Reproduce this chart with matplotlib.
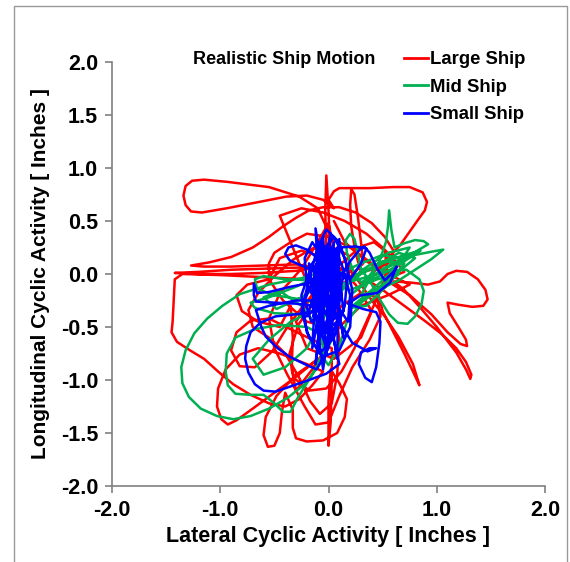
import matplotlib
matplotlib.use("Agg")
import matplotlib.pyplot as plt
from matplotlib.lines import Line2D
from matplotlib.ticker import FormatStrFormatter

plt.rcParams['font.family'] = ['Liberation Sans', 'DejaVu Sans']
plt.rcParams['axes.unicode_minus'] = False

series_names = ["Large Ship", "Mid Ship", "Small Ship"]
series_colors = ["#FF0000", "#00B050", "#0000FF"]
title_text = "Realistic Ship Motion"
x_label = "Lateral Cyclic Activity [ Inches ]"
y_label = "Longitudinal Cyclic Activity [ Inches ]"
x_ticks = [-2.0, -1.0, 0.0, 1.0, 2.0]
y_ticks = [-2.0, -1.5, -1.0, -0.5, 0.0, 0.5, 1.0, 1.5, 2.0]

# Large ship trajectory: (lateral, longitudinal) points
large_pts = [
    (0.0, -0.3), (-0.02, 0.2), (-0.03, 0.6), (-0.02, 0.93), (0.0, 0.6), (0.02, 0.1), (0.0, 0.4),
    (-0.1, 0.62), (-0.27, 0.73), (-0.55, 0.82), (-0.94, 0.87), (-1.15, 0.89), (-1.26, 0.88), (-1.32, 0.83),
    (-1.34, 0.74), (-1.32, 0.65), (-1.27, 0.59), (-1.17, 0.58), (-0.94, 0.62), (-0.64, 0.68), (-0.39, 0.73),
    (-0.2, 0.74), (-0.05, 0.7), (0.05, 0.62),
    (0.0, 0.7), (0.05, 0.78), (0.1, 0.81), (0.38, 0.81), (0.6, 0.82), (0.75, 0.82), (0.87, 0.77), (0.91, 0.68),
    (0.89, 0.6), (0.84, 0.53), (0.75, 0.40), (0.66, 0.27), (0.55, 0.15), (0.45, 0.05), (0.35, -0.05),
    (0.5, -0.15), (0.7, -0.3), (0.9, -0.45), (1.05, -0.57), (1.18, -0.7), (1.27, -0.83), (1.32, -0.95),
    (1.31, -0.99), (1.27, -0.9), (1.18, -0.74), (1.0, -0.5), (0.85, -0.32), (0.7, -0.15), (0.6, -0.07),
    (0.75, -0.08), (0.92, -0.1), (1.03, -0.07), (1.1, 0.0), (1.18, 0.03), (1.28, 0.02), (1.38, -0.05),
    (1.45, -0.15), (1.47, -0.24), (1.43, -0.3), (1.33, -0.31), (1.2, -0.29), (1.1, -0.27), (1.12, -0.37),
    (1.2, -0.5), (1.27, -0.62), (1.28, -0.68), (1.22, -0.66), (1.1, -0.55), (0.95, -0.38), (0.75, -0.2), (0.55, -0.07),
    (0.45, -0.15), (0.5, -0.35), (0.6, -0.55), (0.7, -0.75), (0.78, -0.92), (0.84, -1.05), (0.78, -0.85),
    (0.65, -0.6), (0.52, -0.4), (0.4, -0.25), (0.3, -0.1),
    (0.2, 0.04), (0.0, 0.07), (-0.3, 0.06), (-0.6, 0.05), (-0.9, 0.04), (-1.2, 0.02), (-1.42, 0.01),
    (-1.2, 0.0), (-0.9, 0.0), (-0.6, 0.01), (-0.3, 0.03), (-0.1, 0.06), (-0.3, 0.09), (-0.6, 0.08),
    (-0.9, 0.07), (-1.15, 0.07), (-1.27, 0.08),
    (-1.1, 0.11), (-0.9, 0.16), (-0.7, 0.25), (-0.55, 0.35), (-0.42, 0.45), (-0.3, 0.53), (-0.18, 0.6),
    (-0.05, 0.63), (0.1, 0.63), (0.25, 0.58), (0.4, 0.48), (0.52, 0.35), (0.6, 0.22), (0.58, 0.12),
    (0.45, 0.05), (0.3, 0.02),
    (0.25, 0.2), (0.21, 0.45), (0.2, 0.65), (0.21, 0.8), (0.24, 0.75), (0.27, 0.55), (0.3, 0.3), (0.32, 0.1),
    (0.15, -0.08), (-0.2, -0.05), (-0.6, -0.03), (-1.0, -0.01), (-1.35, 0.0), (-1.42, -0.05), (-1.43, -0.25),
    (-1.44, -0.45), (-1.45, -0.55), (-1.4, -0.64), (-1.28, -0.72), (-1.15, -0.8), (-1.02, -0.92),
    (-0.88, -1.04), (-0.72, -1.14), (-0.55, -1.22), (-0.4, -1.25), (-0.27, -1.18), (-0.15, -1.05), (-0.05, -0.92),
    (-0.2, -0.85), (-0.45, -0.75), (-0.65, -0.7), (-0.82, -0.76), (-0.95, -0.9), (-1.02, -1.08),
    (-1.03, -1.25), (-0.99, -1.37), (-0.93, -1.42), (-0.85, -1.38), (-0.7, -1.27), (-0.5, -1.12),
    (-0.3, -0.97), (-0.12, -0.82),
    (-0.3, -0.95), (-0.48, -1.15), (-0.58, -1.35), (-0.6, -1.52), (-0.56, -1.63), (-0.5, -1.62),
    (-0.45, -1.5), (-0.43, -1.3), (-0.4, -1.12), (-0.33, -1.28), (-0.33, -1.45), (-0.3, -1.55),
    (-0.2, -1.58), (-0.05, -1.57), (0.08, -1.5), (0.15, -1.35), (0.17, -1.18), (0.1, -1.03), (0.02, -0.9),
    (0.0, -1.2), (0.0, -1.45), (0.0, -1.62), (0.02, -1.4), (0.03, -1.0), (0.03, -0.7),
    (-0.15, -0.62), (-0.35, -0.52), (-0.55, -0.42), (-0.72, -0.44), (-0.85, -0.55), (-0.9, -0.72),
    (-0.82, -0.87), (-0.68, -0.88), (-0.52, -0.73), (-0.38, -0.5), (-0.22, -0.28), (-0.05, -0.08),
    (0.12, 0.1), (0.3, 0.26), (0.42, 0.3), (0.52, 0.22), (0.54, 0.05), (0.47, -0.18), (0.35, -0.45),
    (0.24, -0.7), (0.12, -0.92), (-0.02, -1.08), (-0.18, -1.1), (-0.32, -0.98), (-0.36, -0.75),
    (-0.28, -0.48), (-0.12, -0.25), (0.05, -0.12), (0.2, 0.02), (0.18, 0.18), (0.02, 0.26), (-0.15, 0.24),
    (-0.32, 0.14), (-0.5, -0.02), (-0.65, -0.18), (-0.74, -0.34), (-0.7, -0.5), (-0.55, -0.6),
    (-0.4, -0.75), (-0.27, -0.98), (-0.17, -1.2), (-0.08, -1.32), (0.03, -1.22), (0.08, -0.95),
    (0.1, -0.62), (0.06, -0.3), (-0.02, -0.02), (0.04, 0.28), (0.0, 0.48), (-0.1, 0.3), (-0.25, 0.05),
    (-0.45, -0.18), (-0.55, -0.42), (-0.5, -0.7), (-0.38, -0.95), (-0.22, -1.25), (-0.12, -1.42),
    (0.0, -1.4), (0.1, -1.15), (0.22, -0.88), (0.38, -0.62), (0.48, -0.4), (0.45, -0.22), (0.3, -0.18),
    (0.12, -0.3), (0.0, -0.5), (-0.2, -0.45), (-0.42, -0.25), (-0.55, -0.05), (-0.45, 0.15),
    (-0.25, 0.22), (0.0, 0.15), (0.25, -0.1), (0.4, -0.35), (0.3, -0.6), (0.05, -0.8), (-0.2, -0.7),
    (-0.3, -0.45), (-0.15, -0.2),
    (-0.45, 0.55), (-0.25, 0.62), (-0.05, 0.58), (0.15, 0.5), (0.35, 0.38), (0.5, 0.25), (0.62, 0.12),
    (0.7, 0.02), (0.6, -0.02), (0.4, 0.1), (0.2, 0.25), (0.0, 0.35), (-0.2, 0.38), (-0.35, 0.3),
    (-0.5, 0.2), (-0.55, 0.1), (-0.55, -0.05), (-0.75, -0.1), (-0.85, -0.2), (-0.8, -0.35), (-0.65, -0.45),
    (-0.45, -0.5), (-0.35, -0.3), (-0.33, -0.6), (-0.34, -0.9), (-0.3, -1.1), (-0.15, -0.9), (0.1, -0.5),
    (0.3, -0.3), (0.55, -0.2), (0.75, -0.1), (0.55, 0.0), (0.35, 0.12), (0.15, 0.3), (0.05, 0.5),
]

# Mid ship trajectory
mid_pts = [
    (0.2, -0.2), (0.35, -0.08), (0.5, 0.05), (0.65, 0.13), (0.8, 0.18), (0.95, 0.21), (1.06, 0.23),
    (0.95, 0.14), (0.8, 0.04), (0.65, -0.06), (0.48, -0.14), (0.3, -0.2), (0.38, -0.05), (0.47, 0.12),
    (0.53, 0.3), (0.55, 0.45), (0.56, 0.6), (0.58, 0.42), (0.61, 0.25), (0.7, 0.29), (0.8, 0.32),
    (0.88, 0.31), (0.92, 0.28), (0.82, 0.22), (0.68, 0.13), (0.5, 0.04), (0.3, -0.08),
    (0.22, 0.05), (0.17, 0.2), (0.16, 0.32), (0.2, 0.38), (0.24, 0.33), (0.27, 0.2), (0.3, 0.05),
    (0.4, -0.1), (0.48, -0.25), (0.56, -0.38), (0.64, -0.46), (0.73, -0.47), (0.8, -0.4), (0.86, -0.28),
    (0.88, -0.16), (0.84, -0.05), (0.72, 0.04), (0.55, 0.03), (0.35, -0.03), (0.1, -0.1),
    (-0.15, -0.06), (-0.4, -0.05), (-0.6, -0.02), (-0.68, -0.05), (-0.66, -0.14), (-0.5, -0.2),
    (-0.25, -0.24), (0.0, -0.3), (-0.25, -0.38), (-0.5, -0.37), (-0.68, -0.32), (-0.72, -0.27),
    (-0.55, -0.22), (-0.3, -0.12), (0.05, 0.05),
    (-0.25, -0.04), (-0.55, -0.1), (-0.82, -0.19), (-0.98, -0.3), (-1.12, -0.42), (-1.24, -0.56),
    (-1.32, -0.72), (-1.36, -0.88), (-1.35, -1.03), (-1.29, -1.16), (-1.18, -1.27), (-1.03, -1.34),
    (-0.88, -1.37), (-0.72, -1.34), (-0.55, -1.27), (-0.38, -1.17), (-0.22, -1.04), (-0.08, -0.85), (0.03, -0.62),
    (-0.2, -0.5), (-0.45, -0.48), (-0.68, -0.52), (-0.86, -0.6), (-0.94, -0.75), (-0.95, -0.92),
    (-0.93, -1.05), (-0.86, -1.13), (-0.72, -1.14), (-0.6, -1.14), (-0.5, -1.22), (-0.42, -1.3),
    (-0.35, -1.3), (-0.28, -1.16), (-0.15, -0.95), (-0.04, -0.72),
    (-0.1, -0.5), (-0.25, -0.3), (-0.45, -0.16), (-0.6, -0.22), (-0.48, -0.33), (-0.25, -0.22),
    (0.05, -0.02), (0.3, 0.1), (0.5, 0.18), (0.66, 0.15), (0.52, -0.08), (0.32, -0.25), (0.17, -0.45),
    (0.1, -0.68), (0.0, -0.86), (-0.1, -0.72), (-0.06, -0.42), (0.1, -0.18), (0.3, 0.03), (0.55, 0.2),
    (0.75, 0.25), (0.62, 0.05), (0.4, -0.15), (0.2, -0.32), (0.35, -0.3), (0.55, -0.1), (0.7, 0.1),
    (0.5, 0.12), (0.25, -0.02), (0.05, -0.2), (-0.15, -0.35), (-0.35, -0.45), (-0.55, -0.62),
    (-0.7, -0.8), (-0.6, -0.95), (-0.4, -0.88), (-0.2, -0.7),
    (0.1, -0.15), (0.3, 0.0), (0.5, 0.1), (0.7, 0.18), (0.85, 0.22), (0.7, 0.12), (0.5, 0.0),
    (0.3, -0.12), (0.45, 0.08), (0.65, 0.2), (0.8, 0.15), (0.6, -0.02), (0.4, -0.2), (0.25, -0.3),
    (0.45, -0.15), (0.65, 0.0), (0.45, -0.05), (0.2, -0.15),
]

# Small ship trajectory
small_pts = [
    (0.0, -0.3), (-0.12, 0.43), (-0.1, 0.1), (-0.08, -0.5), (-0.05, 0.35), (-0.02, -0.1), (0.0, -0.6),
    (0.05, 0.3), (-0.05, -0.2), (-0.15, -0.7), (-0.1, 0.2), (0.0, -0.3), (0.08, -0.8), (0.1, 0.33),
    (0.05, -0.2), (-0.05, -0.9), (-0.18, 0.1), (-0.05, -0.1), (0.12, -0.5), (0.0, 0.25), (-0.1, -0.3),
    (-0.2, -0.4), (-0.05, 0.05), (0.15, 0.0), (0.0, -0.4), (-0.1, -0.65), (-0.02, 0.0), (0.05, 0.1),
    (-0.08, -0.45), (-0.12, -0.85), (-0.04, -0.3), (0.02, 0.38), (-0.06, 0.0), (-0.15, -0.3),
    (-0.02, -0.7), (0.1, -0.4), (0.04, 0.15), (-0.08, 0.3), (-0.14, -0.15), (-0.04, -0.55),
    (0.12, -0.2), (0.08, 0.2),
    (-0.1, 0.15), (-0.2, 0.23), (-0.3, 0.27), (-0.37, 0.25), (-0.4, 0.19), (-0.36, 0.13), (-0.25, 0.08), (-0.1, 0.02),
    (-0.15, -0.08), (-0.35, -0.12), (-0.55, -0.17), (-0.66, -0.18), (-0.69, -0.09), (-0.69, -0.2),
    (-0.67, -0.26), (-0.5, -0.27), (-0.3, -0.28), (-0.15, -0.3),
    (-0.1, -0.35), (-0.3, -0.38), (-0.49, -0.40), (-0.63, -0.46), (-0.72, -0.55), (-0.76, -0.68),
    (-0.77, -0.8), (-0.74, -0.93), (-0.68, -1.04), (-0.6, -1.1), (-0.49, -1.11), (-0.35, -1.06),
    (-0.18, -1.0), (-0.02, -0.94), (0.1, -0.85),
    (0.02, -0.5), (-0.1, 0.2), (-0.02, -0.75), (0.08, 0.25), (-0.12, -0.55), (0.0, 0.1), (0.14, -0.6), (0.05, -0.1),
    (0.1, -0.05), (0.2, 0.12), (0.28, 0.22), (0.33, 0.26), (0.38, 0.2), (0.45, 0.05), (0.52, -0.06),
    (0.6, 0.02), (0.63, 0.07), (0.57, -0.08), (0.45, -0.18), (0.3, -0.2), (0.18, -0.28), (0.32, -0.33),
    (0.44, -0.36), (0.48, -0.45), (0.47, -0.65), (0.44, -0.88), (0.4, -1.02), (0.34, -0.98),
    (0.28, -0.85), (0.3, -0.74), (0.38, -0.7), (0.44, -0.7), (0.36, -0.73), (0.22, -0.65), (0.1, -0.45),
    (-0.05, -0.25), (-0.3, -0.25), (-0.55, -0.3), (-0.67, -0.34), (-0.62, -0.5), (-0.58, -0.59),
    (-0.47, -0.7), (-0.36, -0.78), (-0.22, -0.85), (-0.11, -0.9), (0.0, -0.7), (0.06, -0.2),
    (-0.08, 0.3), (-0.14, -0.4), (0.02, -0.6), (0.1, 0.15), (-0.06, -0.35),
    (-0.2, -0.1), (-0.22, 0.15), (-0.15, 0.3), (-0.05, 0.15), (0.05, -0.25), (0.18, -0.45), (0.2, -0.2),
    (0.12, 0.1), (0.0, 0.28), (-0.15, 0.1), (-0.25, -0.2), (-0.2, -0.55), (-0.08, -0.75), (0.05, -0.6),
    (0.15, -0.3), (0.18, 0.05), (0.1, 0.3), (-0.02, 0.42), (-0.1, 0.25), (-0.18, -0.05), (-0.25, -0.35),
    (-0.18, -0.6), (-0.05, -0.78), (0.1, -0.72), (0.2, -0.5), (0.22, -0.15), (0.15, 0.15), (0.05, 0.35),
    (-0.08, 0.18), (-0.12, -0.2), (-0.05, -0.55), (0.08, -0.45), (0.12, -0.1), (0.02, 0.12), (-0.12, 0.0),
    (-0.22, -0.25), (-0.16, -0.45), (-0.02, -0.35), (0.06, -0.05), (-0.04, 0.2), (-0.14, 0.05),
    (-0.1, -0.25), (0.02, -0.45), (0.14, -0.35), (0.1, -0.05), (0.0, 0.2), (0.1, 0.25), (0.25, 0.26),
    (0.35, 0.24), (0.3, 0.1), (0.2, -0.05), (-0.02, 0.05), (-0.1, -0.15), (-0.08, -0.4), (0.04, -0.3),
]

W, H = 570, 562
fig = plt.figure(figsize=(W / 100, H / 100), dpi=100)
ax = fig.add_axes([112 / W, 1 - 486 / H, (545 - 112) / W, (486 - 62) / H])

all_series = [large_pts, mid_pts, small_pts]
for pts, name, col in zip(all_series, series_names, series_colors):
    xs = [p[0] for p in pts]
    ys = [p[1] for p in pts]
    ax.plot(xs, ys, color=col, lw=1.8, label=name, solid_joinstyle='round', solid_capstyle='round')

ax.set_xlim(-2, 2)
ax.set_ylim(-2, 2)
ax.set_xticks(x_ticks)
ax.set_yticks(y_ticks)
ax.xaxis.set_major_formatter(FormatStrFormatter('%.1f'))
ax.yaxis.set_major_formatter(FormatStrFormatter('%.1f'))
for s in ['top', 'right']:
    ax.spines[s].set_visible(False)
for s in ['left', 'bottom']:
    ax.spines[s].set_color('#808080')
    ax.spines[s].set_linewidth(1.2)
ax.tick_params(direction='out', length=5, width=1.2, color='#808080', labelsize=15.5, pad=5)
for lab in ax.get_xticklabels() + ax.get_yticklabels():
    lab.set_fontweight('bold')
ax.set_xlabel(x_label, fontsize=15.5, fontweight='bold', labelpad=4)
ax.set_ylabel(y_label, fontsize=15, fontweight='bold', labelpad=8)

handles = [Line2D([0], [0], color=c, lw=2) for c in series_colors]
ax.legend(handles, series_names, loc='upper left', bbox_to_anchor=(404 / W, 1 - 51 / H),
          bbox_transform=fig.transFigure, frameon=False, borderpad=0, borderaxespad=0,
          handlelength=1.3, handletextpad=0.1, labelspacing=0.58,
          prop={'size': 13.3, 'weight': 'bold'})
fig.text(193 / W, 1 - 59 / H, title_text, fontsize=13, fontweight='bold', va='center', ha='left')

# outer frame
fx0, fx1, fy1 = 14 / W, 567 / W, 1 - 6 / H
fig.add_artist(Line2D([fx0, fx0, fx1, fx1], [0, fy1, fy1, 0], transform=fig.transFigure,
                      color='#999999', lw=1))

fig.savefig("out.png", dpi=100)
